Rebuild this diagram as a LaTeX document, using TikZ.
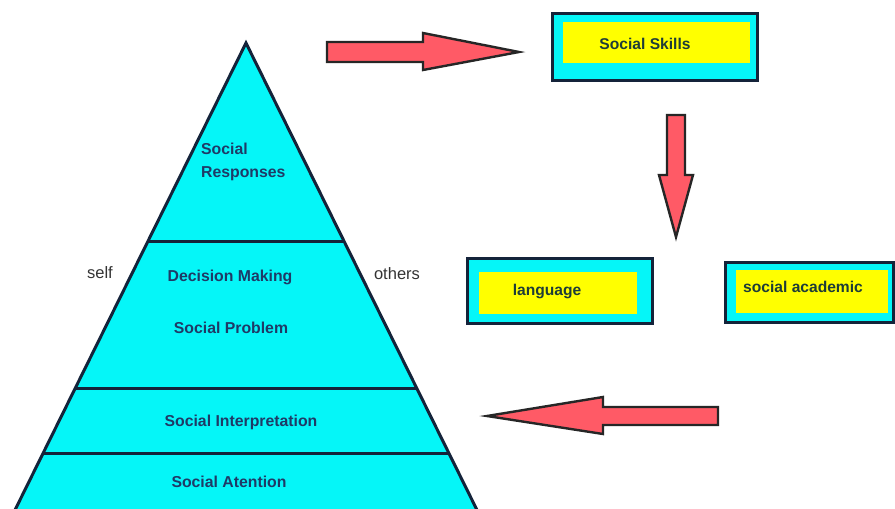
\documentclass[tikz,border=0pt]{standalone}
\usepackage{fontspec}
\setmainfont{Liberation Sans}
\usetikzlibrary{calc}
\definecolor{cyanf}{HTML}{05F6F8}
\definecolor{navy}{HTML}{14233A}
\definecolor{yel}{HTML}{FFFF00}
\definecolor{lbl}{HTML}{1F3A66}
\definecolor{sidec}{HTML}{333333}
\definecolor{boxc}{HTML}{1E3C38}
\definecolor{arrowred}{HTML}{FF5A66}
\begin{document}
\begin{tikzpicture}[x=1pt,y=-1pt,
  lvl/.style={font=\bfseries\fontsize{15.8}{23}\selectfont, text=lbl, inner sep=0pt},
  side/.style={font=\fontsize{16.5}{19}\selectfont, text=sidec, inner sep=0pt},
  outerbox/.style={draw=navy, line width=3pt, fill=cyanf, inner sep=0pt},
  innerbox/.style={fill=yel, inner sep=0pt},
  boxtxt/.style={font=\bfseries\fontsize{15.6}{18}\selectfont, text=boxc, inner sep=0pt},
  blockarrow/.style={draw=black!85, line width=2.4pt, fill=arrowred, line join=miter},
  layerline/.style={draw=navy, line width=3pt}]
\useasboundingbox (0,0) rectangle (895,509);
\fill[white] (0,0) rectangle (895,509);

% pyramid
\coordinate (apex) at (246,43);
\coordinate (bl) at (15,510);
\coordinate (br) at (477,510);
\fill[cyanf] (apex) -- (br) -- (bl) -- cycle;
\draw[navy, line width=3pt, line join=miter] (bl) -- (apex) -- (br);
\draw[layerline] ($(apex)!0.424!(bl)$) -- ($(apex)!0.424!(br)$);
\draw[layerline] ($(apex)!0.7388!(bl)$) -- ($(apex)!0.7388!(br)$);
\draw[layerline] ($(apex)!0.878!(bl)$) -- ($(apex)!0.878!(br)$);

\node[lvl, align=left, anchor=west] (resp) at (201,162) {Social\\Responses};
\node[lvl] (dec) at (230,277) {Decision Making};
\node[lvl] (prob) at (231,328) {Social Problem};
\node[lvl] (interp) at (241,422) {Social Interpretation};
\node[lvl] (atten) at (229,482) {Social Atention};
\node[side] (self) at (100,273) {self};
\node[side] (others) at (397,274) {others};

% boxes
\node[outerbox, minimum width=205pt, minimum height=67pt] (skillsO) at (654.5,46.5) {};
\node[innerbox, minimum width=187pt, minimum height=41pt] (skillsI) at (656.5,42.5) {};
\node[boxtxt] (skills) at (645,44) {Social Skills};

\node[outerbox, minimum width=185pt, minimum height=65pt] (langO) at (559.5,290.5) {};
\node[innerbox, minimum width=158pt, minimum height=42pt] (langI) at (558,293) {};
\node[boxtxt] (lang) at (547,291) {language};

\node[outerbox, minimum width=168pt, minimum height=60pt] (acadO) at (809,292) {};
\node[innerbox, minimum width=152pt, minimum height=43pt] (acadI) at (812,291.5) {};
\node[boxtxt, anchor=west] (acad) at (743,287) {social academic};

% block arrows
\draw[blockarrow] (327,42) -- (423,42) -- (423,33) -- (519,52) -- (423,70) -- (423,62) -- (327,62) -- cycle;
\draw[blockarrow] (667,115) -- (685,115) -- (685,175) -- (693,175) -- (676,237) -- (659,175) -- (667,175) -- cycle;
\draw[blockarrow] (718,407) -- (603,407) -- (603,397) -- (487,416) -- (603,434) -- (603,425) -- (718,425) -- cycle;
\end{tikzpicture}
\end{document}
